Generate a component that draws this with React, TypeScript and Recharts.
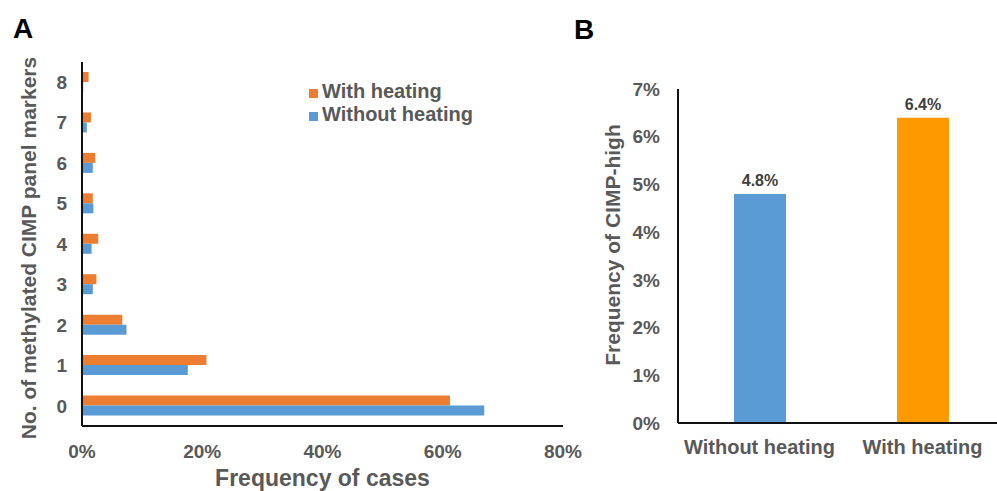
import React from "react";
import { BarChart, Bar, XAxis, YAxis, Legend, LabelList, Cell } from "recharts";

// panel A: number of methylated CIMP markers
const markers = ["0", "1", "2", "3", "4", "5", "6", "7", "8"];
const withHeating = [61.2, 20.7, 6.7, 2.4, 2.7, 1.8, 2.2, 1.5, 1.1];
const withoutHeating = [66.9, 17.6, 7.4, 1.8, 1.6, 1.9, 1.8, 0.8, 0.2];
const freqTicks = [0, 20, 40, 60, 80];

// panel B: CIMP-high frequency
const groups = ["Without heating", "With heating"];
const cimpHigh = [4.8, 6.4];
const groupColors = ["#5B9BD5", "#FF9900"];
const pctTicks = [0, 1, 2, 3, 4, 5, 6, 7];

const FONT = '"Liberation Sans", Arial, sans-serif';
const GREY = "#595959";

const dataA = markers.map((m, i) => ({
  markers: m,
  withHeating: withHeating[i],
  withoutHeating: withoutHeating[i],
}));

const dataB = groups.map((g, i) => ({ group: g, freq: cimpHigh[i] }));

const axisLine = { stroke: "#111", strokeWidth: 2 };
const tickStyle = { fill: GREY, fontSize: 19, fontWeight: "bold" as const };

export default function App() {
  return (
    <div
      style={{
        position: "absolute",
        left: 0,
        top: 0,
        width: 997,
        height: 491,
        overflow: "hidden",
        background: "#fff",
        fontFamily: FONT,
      }}
    >
      <div style={{ position: "absolute", left: 0, top: 0 }}>
        <BarChart
          width={600}
          height={491}
          data={dataA}
          layout="vertical"
          barGap={0}
          margin={{ top: 62, right: 37, bottom: 0, left: 0 }}
        >
          <XAxis
            type="number"
            domain={[0, 80]}
            ticks={freqTicks}
            tickFormatter={(v) => `${v}%`}
            height={65}
            axisLine={axisLine}
            tickLine={false}
            tickMargin={13}
            tick={tickStyle}
            label={{
              value: "Frequency of cases",
              position: "insideBottom",
              offset: 5,
              fill: GREY,
              fontSize: 23,
              fontWeight: "bold",
            }}
          />
          <YAxis
            type="category"
            dataKey="markers"
            reversed
            width={82}
            axisLine={axisLine}
            tickLine={false}
            tickMargin={9}
            tick={tickStyle}
            label={{
              value: "No. of methylated CIMP panel markers",
              angle: -90,
              position: "insideLeft",
              offset: 29,
              dy: 4,
              fill: GREY,
              fontSize: 21,
              fontWeight: "bold",
              style: { textAnchor: "middle" },
            }}
          />
          <Legend
            layout="vertical"
            verticalAlign="middle"
            align="center"
            iconType="square"
            iconSize={9}
            wrapperStyle={{ position: "absolute", left: 309, top: 80, width: "auto", height: "auto" }}
            formatter={(value) => (
              <span style={{ color: GREY, fontSize: 20, fontWeight: "bold" }}>{value}</span>
            )}
          />
          <Bar
            dataKey="withHeating"
            name="With heating"
            fill="#ED7D31"
            barSize={10}
            isAnimationActive={false}
          />
          <Bar
            dataKey="withoutHeating"
            name="Without heating"
            fill="#5B9BD5"
            barSize={10}
            isAnimationActive={false}
          />
        </BarChart>
      </div>

      <div style={{ position: "absolute", left: 600, top: 0 }}>
        <BarChart
          width={410}
          height={491}
          data={dataB}
          margin={{ top: 89, right: 6, bottom: 0, left: 0 }}
        >
          <XAxis
            dataKey="group"
            height={68}
            axisLine={axisLine}
            tickLine={false}
            tickMargin={11}
            tick={{ ...tickStyle, fontSize: 20 }}
          />
          <YAxis
            domain={[0, 7]}
            ticks={pctTicks}
            tickFormatter={(v) => `${v}%`}
            width={78}
            axisLine={axisLine}
            tickLine={false}
            tickMargin={12}
            tick={tickStyle}
            label={{
              value: "Frequency of CIMP-high",
              angle: -90,
              position: "insideLeft",
              offset: 13,
              dy: -11,
              fill: GREY,
              fontSize: 21,
              fontWeight: "bold",
              style: { textAnchor: "middle" },
            }}
          />
          <Bar dataKey="freq" barSize={52} isAnimationActive={false}>
            {dataB.map((d, i) => (
              <Cell key={d.group} fill={groupColors[i]} />
            ))}
            <LabelList
              dataKey="freq"
              position="top"
              offset={8}
              formatter={(v: any) => `${v}%`}
              fill="#404040"
              fontSize={16}
              fontWeight="bold"
            />
          </Bar>
        </BarChart>
      </div>

      <svg
        width={997}
        height={491}
        style={{ position: "absolute", left: 0, top: 0, pointerEvents: "none" }}
      >
        <text x={13} y={38} fontSize={28} fontWeight="bold" fill="#000">
          A
        </text>
        <text x={574} y={39} fontSize={28} fontWeight="bold" fill="#000">
          B
        </text>
      </svg>
    </div>
  );
}
